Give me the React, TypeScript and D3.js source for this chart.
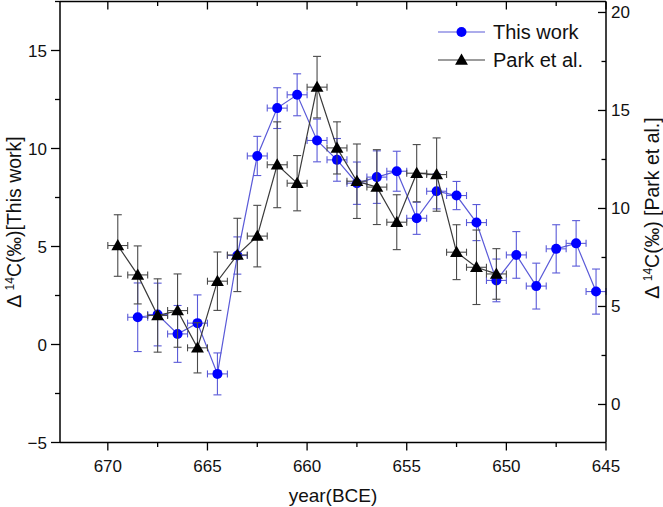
import React from "react";
import * as d3 from "d3";

// ---- Data ----
const blueYears = [668.5, 667.5, 666.5, 665.5, 664.5, 663.5, 662.5, 661.5, 660.5, 659.5, 658.5, 657.5, 656.5, 655.5, 654.5, 653.5, 652.5, 651.5, 650.5, 649.5, 648.5, 647.5, 646.5, 645.5];
const blueValues = [1.39, 1.53, 0.54, 1.09, -1.5, 4.54, 9.62, 12.06, 12.74, 10.41, 9.42, 8.23, 8.54, 8.84, 6.44, 7.82, 7.6, 6.22, 3.27, 4.57, 2.98, 4.88, 5.16, 2.7];
const blueErrors = [1.75, 1.6, 1.45, 1.44, 1.07, 0.95, 1.0, 1.04, 1.07, 1.09, 1.09, 1.08, 1.34, 1.02, 0.82, 0.9, 0.72, 0.92, 1.09, 1.19, 1.17, 1.23, 1.16, 1.15];

const parkYears = [669.5, 668.5, 667.5, 666.5, 665.5, 664.5, 663.5, 662.5, 661.5, 660.5, 659.5, 658.5, 657.5, 656.5, 655.5, 654.5, 653.5, 652.5, 651.5, 650.5];
const parkValues = [8.11, 6.61, 4.54, 4.79, 2.89, 6.29, 7.63, 8.59, 12.23, 11.29, 16.19, 13.09, 11.39, 11.09, 9.3, 11.8, 11.73, 7.77, 7.0, 6.66];
const parkErrors = [1.57, 1.48, 1.87, 1.87, 1.28, 1.49, 1.87, 1.57, 2.19, 1.41, 1.57, 1.33, 1.9, 1.91, 1.4, 1.46, 1.87, 1.4, 1.9, 1.29];

const yearHalfWidth = 0.5;

const xTicks = [670, 665, 660, 655, 650, 645];
const xMinorTicks = [672.5, 667.5, 662.5, 657.5, 652.5, 647.5];
const leftTicks = [-5, 0, 5, 10, 15];
const leftMinorTicks = [-2.5, 2.5, 7.5, 12.5, 17.5];
const rightTicks = [0, 5, 10, 15, 20];
const rightMinorTicks = [2.5, 7.5, 12.5, 17.5];

const xDomain = [672.4, 645];
const leftDomain = [-5, 17.5];
const rightDomain = [-1.94, 20.56];

const legendLabels = ["This work", "Park et al."];

// ---- Layout ----
const W = 663, H = 507;
const L = 60, R = 606, T = 1.5, B = 442.5;
const FONT = "'Liberation Sans', Arial, Helvetica, sans-serif";
const BLUE = "#0000ff";
const BLUE_LINE = "#5a5ad8";
const BLACK_LINE = "#3a3a3a";
const BLACK_ERR = "#4a4a4a";

export default function App() {
  const x = d3.scaleLinear().domain(xDomain).range([L, R]);
  const yL = d3.scaleLinear().domain(leftDomain).range([B, T]);
  const yR = d3.scaleLinear().domain(rightDomain).range([B, T]);

  const blueData = blueYears.map((yr, i) => ({ yr, v: blueValues[i], e: blueErrors[i] }));
  const parkData = parkYears.map((yr, i) => ({ yr, v: parkValues[i], e: parkErrors[i] }));

  const blueLine = d3.line<any>().x((d) => x(d.yr)).y((d) => yL(d.v))(blueData) || "";
  const parkLine = d3.line<any>().x((d) => x(d.yr)).y((d) => yR(d.v))(parkData) || "";

  const tri = d3.symbol().type(d3.symbolTriangle).size(72)() || "";

  const errBars = (data: any[], ys: any, color: string, key: string) =>
    data.map((d, i) => {
      const cx = x(d.yr), cy = ys(d.v);
      const y1 = ys(d.v + d.e), y2 = ys(d.v - d.e);
      const x1 = x(d.yr + yearHalfWidth), x2 = x(d.yr - yearHalfWidth);
      const cw = 4, ch = 3.5;
      return (
        <g key={key + i} stroke={color} strokeWidth={1.1} fill="none">
          <line x1={cx} x2={cx} y1={y1} y2={y2} />
          <line x1={cx - cw} x2={cx + cw} y1={y1} y2={y1} />
          <line x1={cx - cw} x2={cx + cw} y1={y2} y2={y2} />
          <line x1={x1} x2={x2} y1={cy} y2={cy} />
          <line x1={x1} x2={x1} y1={cy - ch} y2={cy + ch} />
          <line x1={x2} x2={x2} y1={cy - ch} y2={cy + ch} />
        </g>
      );
    });

  return (
    <svg width={W} height={H} style={{ position: "absolute", left: 0, top: 0, background: "#fff" }} fontFamily={FONT}>
      <rect x={0} y={0} width={W} height={H} fill="#fff" />

      {/* series: This work */}
      {errBars(blueData, yL, BLUE_LINE, "be")}
      <path d={blueLine} fill="none" stroke={BLUE_LINE} strokeWidth={1.2} />
      {blueData.map((d, i) => (
        <circle key={"bc" + i} cx={x(d.yr)} cy={yL(d.v)} r={5} fill={BLUE} />
      ))}

      {/* series: Park et al. */}
      {errBars(parkData, yR, BLACK_ERR, "pe")}
      <path d={parkLine} fill="none" stroke={BLACK_LINE} strokeWidth={1.2} />
      {parkData.map((d, i) => (
        <path key={"pt" + i} d={tri} transform={`translate(${x(d.yr)},${yR(d.v) + 1})`} fill="#000" />
      ))}

      {/* frame */}
      <g stroke="#000" strokeWidth={1.5} fill="none">
        <line x1={L} x2={R} y1={B} y2={B} />
        <line x1={L} x2={R} y1={T} y2={T} />
        <line x1={L} x2={L} y1={T} y2={B} />
        <line x1={R} x2={R} y1={T} y2={B} />
      </g>

      {/* bottom & top ticks */}
      <g stroke="#000" strokeWidth={1.3}>
        {xTicks.map((t) => (
          <g key={"xt" + t}>
            <line x1={x(t)} x2={x(t)} y1={B} y2={B + 8} />
            <line x1={x(t)} x2={x(t)} y1={T} y2={T + 8} />
          </g>
        ))}
        {xMinorTicks.filter((t) => t <= xDomain[0] && t >= xDomain[1]).map((t) => (
          <g key={"xm" + t}>
            <line x1={x(t)} x2={x(t)} y1={B} y2={B + 4.5} />
            <line x1={x(t)} x2={x(t)} y1={T} y2={T + 4.5} />
          </g>
        ))}
        {leftTicks.map((t) => (
          <line key={"lt" + t} x1={L - 9} x2={L} y1={yL(t)} y2={yL(t)} />
        ))}
        {leftMinorTicks.map((t) => (
          <line key={"lm" + t} x1={L - 5} x2={L} y1={yL(t)} y2={yL(t)} />
        ))}
        {rightTicks.map((t) => (
          <line key={"rt" + t} x1={R - 8} x2={R} y1={yR(t)} y2={yR(t)} />
        ))}
        {rightMinorTicks.map((t) => (
          <line key={"rm" + t} x1={R - 4.5} x2={R} y1={yR(t)} y2={yR(t)} />
        ))}
      </g>

      {/* tick labels */}
      <g fontSize={17} fill="#111">
        {xTicks.map((t) => (
          <text key={"xl" + t} x={x(t)} y={472} textAnchor="middle">{t}</text>
        ))}
        {leftTicks.map((t) => (
          <text key={"ll" + t} x={47} y={yL(t) + 6} textAnchor="end">{t < 0 ? "\u2212" + Math.abs(t) : t}</text>
        ))}
        {rightTicks.map((t) => (
          <text key={"rl" + t} x={611} y={yR(t) + 6} textAnchor="start">{t}</text>
        ))}
      </g>

      {/* axis titles */}
      <text x={(L + R) / 2} y={502} textAnchor="middle" fontSize={19} fill="#111">year(BCE)</text>
      <text transform={`translate(21,${(T + B) / 2}) rotate(-90)`} textAnchor="middle" fontSize={19.5} fill="#111">
        {"\u0394 "}
        <tspan fontSize={12} dy={-7}>14</tspan>
        <tspan dy={7}>C(‰)[This work]</tspan>
      </text>
      <text transform={`translate(659,208) rotate(-90)`} textAnchor="middle" fontSize={19.5} fill="#111">
        {"\u0394 "}
        <tspan fontSize={12} dy={-7}>14</tspan>
        <tspan dy={7}>C(‰) [Park et al.]</tspan>
      </text>

      {/* legend */}
      <g>
        <line x1={438} x2={485} y1={32} y2={32} stroke={BLUE_LINE} strokeWidth={1.2} />
        <circle cx={461.5} cy={32} r={5} fill={BLUE} />
        <text x={493} y={39} fontSize={20} fill="#111">{legendLabels[0]}</text>
        <line x1={438} x2={485} y1={60} y2={60} stroke={BLACK_LINE} strokeWidth={1.2} />
        <path d={tri} transform="translate(461.5,61)" fill="#000" />
        <text x={493} y={67} fontSize={20} fill="#111">{legendLabels[1]}</text>
      </g>
    </svg>
  );
}
